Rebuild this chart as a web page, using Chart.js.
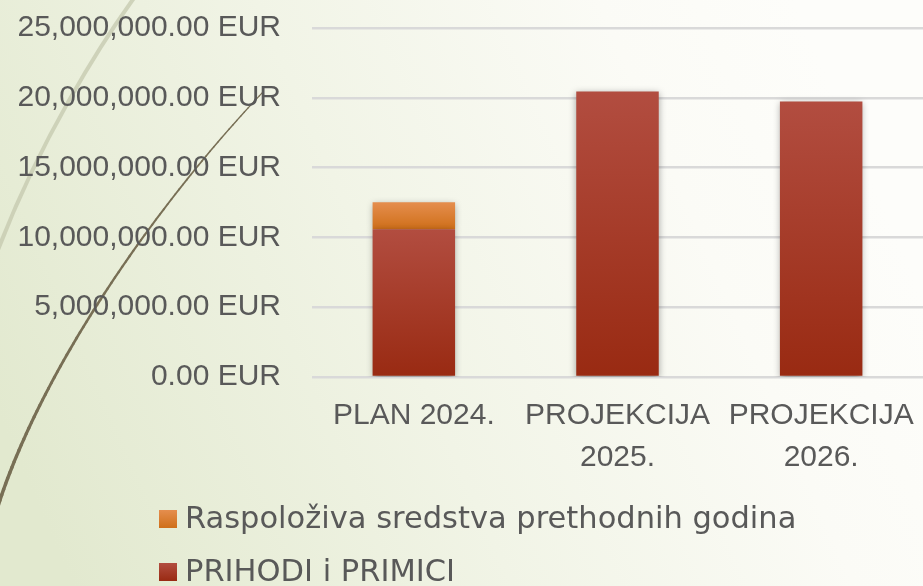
<!DOCTYPE html>
<html>
<head>
<meta charset="utf-8">
<script src="https://cdn.jsdelivr.net/npm/chart.js@4/dist/chart.umd.min.js"></script>
<style>
html,body{margin:0;padding:0;background:#fff;}
#wrap{position:relative;width:923px;height:586px;}
</style>
</head>
<body>
<div id="wrap"><canvas id="c" width="923" height="586"></canvas></div>
<script>
// ---- data ----
const categories = [['PLAN 2024.'], ['PROJEKCIJA', '2025.'], ['PROJEKCIJA', '2026.']];
const prihodiLabel = 'PRIHODI i PRIMICI';
const prihodiValues = [10590000, 20460000, 19740000];
const raspolozivaLabel = 'Raspoloživa sredstva prethodnih godina';
const raspolozivaValues = [1930000, 0, 0];
const yTicks = [0, 5000000, 10000000, 15000000, 20000000, 25000000];

const TEXT = '#595959';
const FONT = "'Liberation Sans', Arial, sans-serif";

function vertGrad(ctx, y0, y1, cTop, cBot) {
  const g = ctx.createLinearGradient(0, y0, 0, y1);
  g.addColorStop(0, cTop);
  g.addColorStop(1, cBot);
  return g;
}
const RED = ['#B24D40', '#992A12'];
const ORANGE = ['#E58E4E', '#CF6F19'];

function barFill(colors, baseArr, valArr) {
  return function (context) {
    const chart = context.chart;
    const y = chart.scales && chart.scales.y;
    if (!y || context.type !== 'data') return colors[1];
    const i = context.dataIndex;
    const base = baseArr ? baseArr[i] : 0;
    const top = base + valArr[i];
    const y0 = y.getPixelForValue(top), y1 = y.getPixelForValue(base);
    if (!isFinite(y0) || !isFinite(y1) || y0 === y1) return colors[1];
    return vertGrad(chart.ctx, y0, y1, colors[0], colors[1]);
  };
}

function bez(p0, p1, p2, p3, t) {
  const u = 1 - t;
  return [
    u*u*u*p0[0] + 3*u*u*t*p1[0] + 3*u*t*t*p2[0] + t*t*t*p3[0],
    u*u*u*p0[1] + 3*u*u*t*p1[1] + 3*u*t*t*p2[1] + t*t*t*p3[1]
  ];
}

const bgPlugin = {
  id: 'bg',
  beforeDraw(chart) {
    const ctx = chart.ctx, W = chart.width, H = chart.height;
    ctx.save();
    const g = ctx.createLinearGradient(0, 420, 820, 60);
    g.addColorStop(0, '#E2E9CF');
    g.addColorStop(0.45, '#F1F4E6');
    g.addColorStop(0.8, '#FBFBF6');
    g.addColorStop(1, '#FDFDFA');
    ctx.fillStyle = g;
    ctx.fillRect(0, 0, W, H);
    // light decorative arc
    ctx.strokeStyle = 'rgba(196,200,174,0.75)';
    ctx.lineWidth = 4;
    ctx.beginPath();
    ctx.moveTo(134, -2);
    ctx.bezierCurveTo(100, 45, 40, 140, -2, 250);
    ctx.stroke();
    // dark decorative arc (tapered)
    ctx.strokeStyle = '#786F55';
    ctx.lineCap = 'round';
    const P0 = [-2, 506], P1 = [45, 360], P2 = [165, 195], P3 = [263, 92];
    const N = 80;
    let prev = bez(P0, P1, P2, P3, 0);
    for (let k = 1; k <= N; k++) {
      const t = k / N;
      const p = bez(P0, P1, P2, P3, t);
      ctx.lineWidth = 3.6 - 2.4 * t;
      ctx.beginPath();
      ctx.moveTo(prev[0], prev[1]);
      ctx.lineTo(p[0], p[1]);
      ctx.stroke();
      prev = p;
    }
    ctx.restore();
  },
  beforeDatasetsDraw(chart) {
    const ctx = chart.ctx;
    ctx.save();
    ctx.shadowColor = 'rgba(0,0,0,0.35)';
    ctx.shadowBlur = 7;
    ctx.shadowOffsetX = 0;
    ctx.shadowOffsetY = 2;
  },
  afterDatasetsDraw(chart) {
    chart.ctx.restore();
  },
  afterDraw(chart) {
    // legend (vertical, left aligned) built from the datasets
    const ctx = chart.ctx;
    const items = [
      { ds: chart.data.datasets[1], colors: ORANGE, y: 519 },
      { ds: chart.data.datasets[0], colors: RED, y: 572 }
    ];
    ctx.save();
    items.forEach(it => {
      ctx.fillStyle = vertGrad(ctx, it.y - 9, it.y + 9, it.colors[0], it.colors[1]);
      ctx.fillRect(159, it.y - 9, 18, 18);
      ctx.fillStyle = TEXT;
      ctx.font = "30.5px 'DejaVu Sans', sans-serif";
      ctx.textBaseline = 'middle';
      ctx.textAlign = 'left';
      ctx.fillText(it.ds.label, 185, it.y + 1);
    });
    ctx.restore();
  }
};

new Chart(document.getElementById('c'), {
  type: 'bar',
  data: {
    labels: categories,
    datasets: [
      {
        label: prihodiLabel,
        data: prihodiValues,
        backgroundColor: barFill(RED, null, prihodiValues),
        borderWidth: 0,
        categoryPercentage: 1,
        barPercentage: 0.405
      },
      {
        label: raspolozivaLabel,
        data: raspolozivaValues,
        backgroundColor: barFill(ORANGE, prihodiValues, raspolozivaValues),
        borderWidth: 0,
        categoryPercentage: 1,
        barPercentage: 0.405
      }
    ]
  },
  options: {
    responsive: false,
    animation: false,
    devicePixelRatio: 1,
    layout: { padding: { top: 28, right: 0, bottom: 107, left: 0 } },
    plugins: {
      legend: { display: false },
      tooltip: { enabled: false },
      title: { display: false }
    },
    scales: {
      x: {
        stacked: true,
        grid: { display: false, drawTicks: false },
        border: { display: false },
        ticks: {
          color: TEXT,
          padding: 18,
          maxRotation: 0,
          autoSkip: false,
          font: { family: FONT, size: 30, lineHeight: 1.4 }
        },
        afterFit(scale) {
          scale.height = 102;
          scale.paddingLeft = 0;
          scale.paddingRight = 0;
        }
      },
      y: {
        stacked: true,
        min: 0,
        max: 25000000,
        afterBuildTicks(scale) { scale.ticks = yTicks.map(v => ({ value: v })); },
        grid: { color: '#D9D9D9', lineWidth: 2.5, drawTicks: false },
        border: { display: false },
        ticks: {
          color: TEXT,
          padding: 31,
          font: { family: FONT, size: 30 },
          callback: (v) => Number(v).toLocaleString('en-US', { minimumFractionDigits: 2, maximumFractionDigits: 2 }) + ' EUR'
        },
        afterFit(scale) {
          scale.width = 312;
          scale.paddingTop = 0;
          scale.paddingBottom = 0;
        }
      }
    }
  },
  plugins: [bgPlugin]
});
</script>
</body>
</html>
